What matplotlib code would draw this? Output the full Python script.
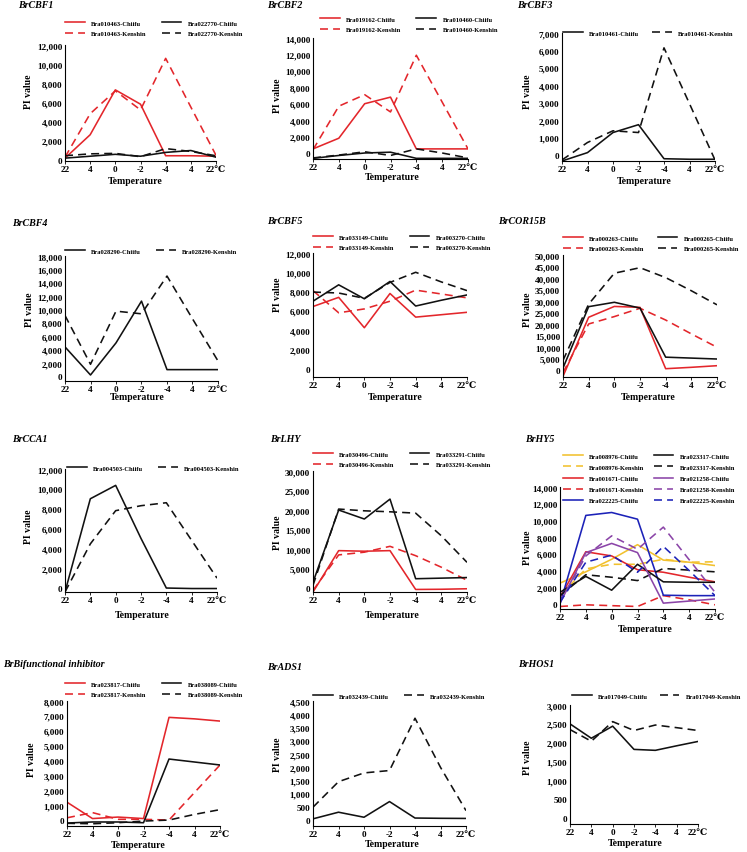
import matplotlib
matplotlib.use('Agg')
import matplotlib.pyplot as plt
from matplotlib.ticker import FuncFormatter

plt.rcParams['font.family'] = ['Liberation Serif', 'DejaVu Serif']
plt.rcParams['font.weight'] = 'bold'

temps = ['22', '4', '0', '-2', '-4', '4', '22\u2103']

# BrCBF1
cbf1_010463_chiifu = [150, 2600, 7300, 5800, 400, 400, 350]
cbf1_010463_kenshin = [250, 4800, 7200, 5200, 10600, 5500, 450]
cbf1_022770_chiifu = [150, 350, 550, 350, 750, 950, 250]
cbf1_022770_kenshin = [400, 600, 650, 300, 1150, 850, 400]
# BrCBF2
cbf2_019162_chiifu = [500, 1800, 6000, 6800, 500, 500, 500]
cbf2_019162_kenshin = [400, 5700, 7100, 5000, 11900, 6200, 500]
cbf2_010460_chiifu = [-650, -300, 0, 100, -650, -650, -650]
cbf2_010460_kenshin = [-600, -250, 150, -300, 500, 0, -600]
# BrCBF3
cbf3_010461_chiifu = [-330, 150, 1300, 1750, -200, -230, -230]
cbf3_010461_kenshin = [-270, 730, 1400, 1300, 6150, 2950, -270]
# BrCBF4
cbf4_028290_chiifu = [4400, 200, 5000, 11250, 1000, 1000, 1000]
cbf4_028290_kenshin = [9100, 1800, 9750, 9350, 15000, 8600, 2300]
# BrCBF5
cbf5_033149_chiifu = [6450, 7400, 4250, 7800, 5350, 5600, 5850]
cbf5_033149_kenshin = [8100, 5800, 6200, 7000, 8150, 7750, 7350]
cbf5_003270_chiifu = [7000, 8700, 7250, 9050, 6500, 7100, 7650]
cbf5_003270_kenshin = [7950, 7850, 7300, 8950, 10000, 9000, 8100]
# BrCOR15B
cor_000263_chiifu = [-2600, 23000, 27700, 27300, 700, 1300, 2000]
cor_000263_kenshin = [-1000, 20100, 23300, 26900, 21800, 15800, 10000]
cor_000265_chiifu = [1000, 27600, 29500, 27000, 5700, 5300, 4900]
cor_000265_kenshin = [4300, 28700, 42100, 44500, 40200, 34500, 28400]
# BrCCA1
cca1_004503_chiifu = [-400, 9000, 10350, 5000, 0, -50, -50]
cca1_004503_kenshin = [-400, 4450, 7800, 8300, 8600, 4800, 1000]
# BrLHY
lhy_030496_chiifu = [-1000, 9600, 9450, 9600, -350, -300, -170]
lhy_030496_kenshin = [-600, 8500, 9200, 10700, 8300, 5350, 2000]
lhy_033291_chiifu = [1500, 20000, 17700, 22800, 2400, 2550, 2700]
lhy_033291_kenshin = [700, 20250, 19800, 19550, 19200, 13400, 6600]
# BrHY5
hy5_008976_chiifu = [2500, 3850, 5350, 7100, 5250, 5000, 4600]
hy5_008976_kenshin = [1000, 4200, 4750, 4750, 5350, 5000, 5050]
hy5_001671_chiifu = [800, 6250, 5750, 4100, 3800, 3200, 2650]
hy5_001671_kenshin = [-300, -100, -200, -300, 1000, 500, -100]
hy5_022225_chiifu = [0, 10600, 10950, 10150, 1050, 1000, 1000]
hy5_023317_chiifu = [1400, 3300, 1650, 4750, 2650, 2600, 2600]
hy5_023317_kenshin = [1000, 3500, 3200, 2800, 4250, 4050, 3850]
hy5_021258_chiifu = [100, 6150, 7250, 6150, 100, 350, 600]
hy5_021258_kenshin = [200, 5750, 8150, 6550, 9200, 5300, 1400]
hy5_022225_kenshin = [200, 5000, 5850, 3800, 6900, 4000, 1000]
# BrBifunctional inhibitor
bif_023817_chiifu = [1200, 100, 200, 100, 6900, 6800, 6650]
bif_023817_kenshin = [150, 500, 50, 50, 0, 1850, 3700]
bif_038089_chiifu = [-200, -130, -130, -180, 4100, 3900, 3700]
bif_038089_kenshin = [-220, -250, -180, -70, 0, 380, 700]
# BrADS1
ads1_032439_chiifu = [60, 310, 120, 710, 90, 80, 75]
ads1_032439_kenshin = [500, 1460, 1790, 1880, 3850, 2000, 370]
# BrHOS1
hos1_017049_chiifu = [2500, 2120, 2440, 1825, 1800, 1920, 2035]
hos1_017049_kenshin = [2350, 2040, 2560, 2325, 2470, 2400, 2325]

RED = '#e3262b'
BLK = '#111111'
GOLD = '#f2c12e'
PURP = '#8b45a8'
BLUE = '#1c22b8'

W, H = 747, 853
fig = plt.figure(figsize=(W / 100, H / 100), dpi=100)


def panel(box, ylim, ystep, title, tpos, series, leg, ylab, xlab, lspace=0.75, cspace=2.3):
    left, right, top, bottom = box
    ax = fig.add_axes([left / W, 1 - bottom / H, (right - left) / W, (bottom - top) / H])
    x = range(len(temps))
    handles = []
    for lab, vals, col, ls in series:
        if ls == '--':
            h, = ax.plot(x, vals, color=col, lw=1.15, dashes=(5, 3.2), label=lab)
        else:
            h, = ax.plot(x, vals, color=col, lw=1.15, label=lab)
        handles.append(h)
    ax.set_xlim(0, len(temps) - 1)
    ax.set_ylim(*ylim)
    ticks = []
    t = 0
    while t <= ylim[1] + 1:
        ticks.append(t)
        t += ystep
    ax.set_yticks(ticks)
    ax.yaxis.set_major_formatter(FuncFormatter(lambda v, p: '{:,.0f}'.format(v)))
    ax.set_xticks(list(x))
    ax.set_xticklabels(temps)
    for s in ['top', 'right']:
        ax.spines[s].set_visible(False)
    for s in ['left', 'bottom']:
        ax.spines[s].set_linewidth(0.8)
    ax.tick_params(axis='y', length=0, pad=2, labelsize=6.6)
    ax.tick_params(axis='x', length=2, width=0.6, pad=1, labelsize=6.6)
    fig.text(tpos[0] / W, 1 - tpos[1] / H, title, fontsize=7.2, style='italic',
             fontweight='bold', ha='left', va='center')
    fig.text(ylab[0] / W, 1 - ylab[1] / H, 'PI value', fontsize=7, rotation=90,
             ha='center', va='center')
    fig.text(xlab[0] / W, 1 - xlab[1] / H, 'Temperature', fontsize=7,
             ha='center', va='center')
    ax.legend(handles=handles, ncol=2, loc='upper left',
              bbox_to_anchor=(leg[0] / W, 1 - leg[1] / H), bbox_transform=fig.transFigure,
              frameon=False, fontsize=4.7, handlelength=3.0, handletextpad=1.0,
              columnspacing=cspace, labelspacing=lspace, borderpad=0, borderaxespad=0)
    return ax


panel((65, 216, 46, 162), (-150, 12000), 2000, 'BrCBF1', (18, 6),
      [('Bra010463-Chiifu', cbf1_010463_chiifu, RED, '-'),
       ('Bra010463-Kenshin', cbf1_010463_kenshin, RED, '--'),
       ('Bra022770-Chiifu', cbf1_022770_chiifu, BLK, '-'),
       ('Bra022770-Kenshin', cbf1_022770_kenshin, BLK, '--')],
      (65, 21), (29, 92), (135, 181))

panel((313, 468, 39, 160), (-730, 14000), 2000, 'BrCBF2', (267, 6),
      [('Bra019162-Chiifu', cbf2_019162_chiifu, RED, '-'),
       ('Bra019162-Kenshin', cbf2_019162_kenshin, RED, '--'),
       ('Bra010460-Chiifu', cbf2_010460_chiifu, BLK, '-'),
       ('Bra010460-Kenshin', cbf2_010460_kenshin, BLK, '--')],
      (320, 17), (277, 96), (392, 178))

panel((562, 715, 34, 162), (-330, 7000), 1000, 'BrCBF3', (517, 6),
      [('Bra010461-Chiifu', cbf3_010461_chiifu, BLK, '-'),
       ('Bra010461-Kenshin', cbf3_010461_kenshin, BLK, '--')],
      (563, 31), (527, 92), (644, 182), cspace=2.0)

panel((65, 218, 257, 382), (-700, 18000), 2000, 'BrCBF4', (12, 224),
      [('Bra028290-Chiifu', cbf4_028290_chiifu, BLK, '-'),
       ('Bra028290-Kenshin', cbf4_028290_kenshin, BLK, '--')],
      (65, 249), (30, 310), (137, 398))

panel((313, 467, 254, 378), (-860, 12000), 2000, 'BrCBF5', (267, 221),
      [('Bra033149-Chiifu', cbf5_033149_chiifu, RED, '-'),
       ('Bra033149-Kenshin', cbf5_033149_kenshin, RED, '--'),
       ('Bra003270-Chiifu', cbf5_003270_chiifu, BLK, '-'),
       ('Bra003270-Kenshin', cbf5_003270_kenshin, BLK, '--')],
      (313, 235), (278, 295), (395, 398))

panel((563, 717, 256, 378), (-2900, 50000), 5000, 'BrCOR15B', (498, 221),
      [('Bra000263-Chiifu', cor_000263_chiifu, RED, '-'),
       ('Bra000263-Kenshin', cor_000263_kenshin, RED, '--'),
       ('Bra000265-Chiifu', cor_000265_chiifu, BLK, '-'),
       ('Bra000265-Kenshin', cor_000265_kenshin, BLK, '--')],
      (563, 236), (527, 310), (648, 398), cspace=2.0)

panel((65, 217, 470, 593), (-400, 12000), 2000, 'BrCCA1', (12, 439),
      [('Bra004503-Chiifu', cca1_004503_chiifu, BLK, '-'),
       ('Bra004503-Kenshin', cca1_004503_kenshin, BLK, '--')],
      (67, 466), (29, 527), (142, 615))

panel((313, 467, 472, 593), (-1000, 30000), 5000, 'BrLHY', (270, 439),
      [('Bra030496-Chiifu', lhy_030496_chiifu, RED, '-'),
       ('Bra030496-Kenshin', lhy_030496_kenshin, RED, '--'),
       ('Bra033291-Chiifu', lhy_033291_chiifu, BLK, '-'),
       ('Bra033291-Kenshin', lhy_033291_kenshin, BLK, '--')],
      (313, 452), (278, 533), (392, 615))

panel((560, 715, 488, 610), (-600, 14000), 2000, 'BrHY5', (525, 439),
      [('Bra008976-Chiifu', hy5_008976_chiifu, GOLD, '-'),
       ('Bra008976-Kenshin', hy5_008976_kenshin, GOLD, '--'),
       ('Bra001671-Chiifu', hy5_001671_chiifu, RED, '-'),
       ('Bra001671-Kenshin', hy5_001671_kenshin, RED, '--'),
       ('Bra022225-Chiifu', hy5_022225_chiifu, BLUE, '-'),
       ('Bra023317-Chiifu', hy5_023317_chiifu, BLK, '-'),
       ('Bra023317-Kenshin', hy5_023317_kenshin, BLK, '--'),
       ('Bra021258-Chiifu', hy5_021258_chiifu, PURP, '-'),
       ('Bra021258-Kenshin', hy5_021258_kenshin, PURP, '--'),
       ('Bra022225-Kenshin', hy5_022225_kenshin, BLUE, '--')],
      (563, 454), (527, 548), (645, 630), lspace=0.85, cspace=1.4)

panel((67, 220, 702, 827), (-400, 8000), 1000, 'BrBifunctional inhibitor', (3, 665),
      [('Bra023817-Chiifu', bif_023817_chiifu, RED, '-'),
       ('Bra023817-Kenshin', bif_023817_kenshin, RED, '--'),
       ('Bra038089-Chiifu', bif_038089_chiifu, BLK, '-'),
       ('Bra038089-Kenshin', bif_038089_kenshin, BLK, '--')],
      (65, 682), (32, 760), (138, 846))

panel((313, 466, 702, 827), (-210, 4500), 500, 'BrADS1', (267, 668),
      [('Bra032439-Chiifu', ads1_032439_chiifu, BLK, '-'),
       ('Bra032439-Kenshin', ads1_032439_kenshin, BLK, '--')],
      (313, 694), (278, 755), (392, 845))

panel((570, 698, 706, 825), (-150, 3000), 500, 'BrHOS1', (518, 665),
      [('Bra017049-Chiifu', hos1_017049_chiifu, BLK, '-'),
       ('Bra017049-Kenshin', hos1_017049_kenshin, BLK, '--')],
      (572, 694), (528, 758), (635, 844), cspace=1.8)

fig.savefig('out.png', dpi=100)
